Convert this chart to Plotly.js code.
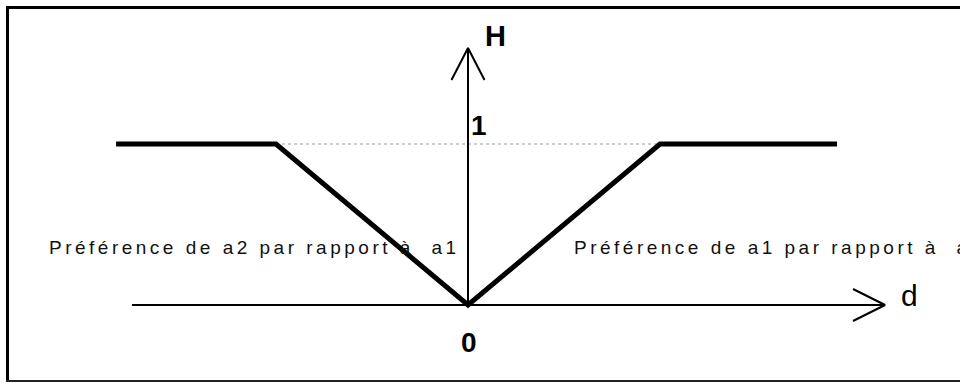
<!DOCTYPE html>
<html>
<head>
<meta charset="utf-8">
<script src="https://cdn.plot.ly/plotly-3.0.1.min.js"></script>
<style>
html,body{margin:0;padding:0;background:#fff;overflow:hidden;}
#chart{width:960px;height:383px;overflow:hidden;}
text.annotation-text[data-unformatted^="Pr"]{letter-spacing:3.5px;}
</style>
</head>
<body>
<div id="chart"></div>
<script>
// Preference function H(d): flat at 1, linear to 0 at d=0
const curveD = [-1.833, -1, 0, 1, 1.922];
const curveH = [1, 1, 0, 1, 1];
// guide level H = 1
const guideD = [-1, 1];
const guideH = [1, 1];
// axis extents (d axis and H axis)
const dAxisD = [-1.75, 2.172];
const hAxisTop = 1.596;
const tickLabels = ['0', '1'];
const axisNames = ['d', 'H'];
const sideLabels = ['Préférence de a2 par rapport à\u00a0 a1', 'Préférence de a1 par rapport à\u00a0 a2'];

const black = '#000';
const font = 'Liberation Sans, Arial, sans-serif';

const traces = [
  {x: guideD, y: guideH, mode: 'lines', line: {color: '#999', width: 1, dash: 'dot'}, hoverinfo: 'skip'},
  {x: dAxisD, y: [0, 0], mode: 'lines', line: {color: black, width: 2}, hoverinfo: 'skip'},
  {x: [dAxisD[1] - 0.1667, dAxisD[1], dAxisD[1] - 0.1667], y: [0.0994, 0, -0.0994], mode: 'lines', line: {color: black, width: 2}, hoverinfo: 'skip'},
  {x: [0, 0], y: [0, hAxisTop], mode: 'lines', line: {color: black, width: 2}, hoverinfo: 'skip'},
  {x: [-0.086, 0, 0.086], y: [hAxisTop - 0.199, hAxisTop, hAxisTop - 0.199], mode: 'lines', line: {color: black, width: 2}, hoverinfo: 'skip'},
  {x: curveD, y: curveH, mode: 'lines', line: {color: black, width: 5}, hoverinfo: 'skip'}
];

const layout = {
  width: 960, height: 383,
  margin: {l: 0, r: 0, t: 0, b: 0},
  paper_bgcolor: '#fff', plot_bgcolor: '#fff',
  showlegend: false,
  xaxis: {range: [-2.4375, 2.5625], visible: false, fixedrange: true},
  yaxis: {range: [-0.4845, 1.8944], visible: false, fixedrange: true},
  shapes: [
    {type: 'line', xref: 'paper', yref: 'paper', x0: 0.0063, x1: 1, y0: 0.9804, y1: 0.9804, line: {color: black, width: 3}},
    {type: 'line', xref: 'paper', yref: 'paper', x0: 0.0078, x1: 0.0078, y0: 0.9843, y1: 0.004, line: {color: black, width: 3}},
    {type: 'line', xref: 'paper', yref: 'paper', x0: 0.0063, x1: 1, y0: 0.0052, y1: 0.0052, line: {color: '#222', width: 2}}
  ],
  annotations: [
    {x: 0.1406, y: 1.671, text: axisNames[1], showarrow: false, font: {family: font, size: 29, color: black, weight: 'bold'}},
    {x: 2.302, y: 0.062, text: axisNames[0], showarrow: false, font: {family: font, size: 30, color: black}},
    {x: 0.057, y: 1.112, text: tickLabels[1], showarrow: false, font: {family: font, size: 28, color: black, weight: 'bold'}},
    {x: 0.005, y: -0.23, text: tickLabels[0], showarrow: false, font: {family: font, size: 28, color: black, weight: 'bold'}},
    {x: -2.193, y: 0.36, xanchor: 'left', text: sideLabels[0], showarrow: false, font: {family: font, size: 19, color: '#111'}},
    {x: 0.5417, y: 0.36, xanchor: 'left', text: sideLabels[1], showarrow: false, font: {family: font, size: 19, color: '#111'}}
  ]
};

Plotly.newPlot('chart', traces, layout, {staticPlot: true, displayModeBar: false});
</script>
</body>
</html>
